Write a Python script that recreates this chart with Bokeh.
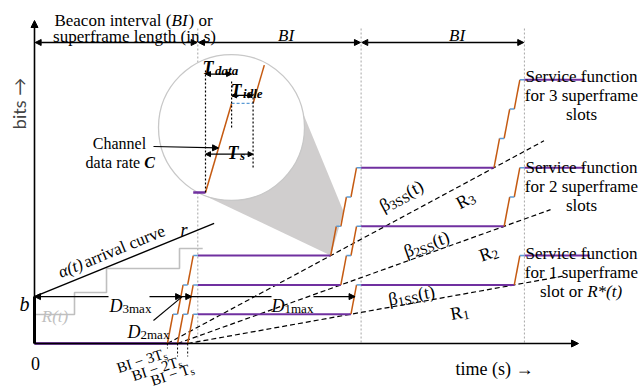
import math
from bokeh.plotting import figure
from bokeh.models import Range1d, Label, Arrow, NormalHead
from bokeh.embed import file_html
from bokeh.resources import INLINE

# ---------------- data (time in beacon intervals, bits in slot quanta) ----------------
bi_marks = [1, 2, 3]                 # superframe boundaries
T_S = 0.062                          # slot length
T_DATA = 0.034                       # transmission part of a slot
T_IDLE = 0.028                       # idle part of a slot
levels_1ss = [0, 1, 2, 3]            # service level at each boundary, 1 slot
levels_2ss = [0, 2, 4, 6]            # 2 slots
levels_3ss = [0, 3, 6, 9]            # 3 slots
tail_end = [3.40, 3.37, 3.37]        # end of the last flat part per curve
beta_end = [3.24, 3.16, 3.12]        # end of the rate-latency lines
burst_b = 1.60                       # burst size b
rate_r = 2.27                        # arrival rate r
alpha_end = 1.10
rt_times = [0.0, 0.245, 0.441, 0.888, 1.03]   # arrival staircase R(t)
rt_levels = [0.99, 1.74, 2.56, 3.24]
d_end = [1.963, 0.963, 0.901]        # D1max, D2max, D3max end points

# ---------------- canvas mapping ----------------
SX, SY, X0, Y0 = 163.3, 29.3, 34.0, 343.0
def ux(px): return (px - X0) / SX
def vy(py): return (Y0 - py) / SY

PURPLE, ORANGE, BLUE = "#7030A0", "#C55A11", "#5B9BD5"
GREY, CONE = "#BFBFBF", "#D0CECE"
SERIF = "Liberation Serif"

p = figure(width=641, height=388, x_range=Range1d(ux(0), ux(641)),
           y_range=Range1d(vy(388), vy(0)), output_backend="svg",
           toolbar_location=None, min_border=0,
           x_axis_location=None, y_axis_location=None)
p.grid.visible = False
p.outline_line_color = None

def head(size=7):
    return NormalHead(size=size, fill_color="black", line_color="black", line_width=1)

def arrow(x0, y0, x1, y1, start=False, end=True, size=7, width=1.3, alpha=1.0):
    p.add_layout(Arrow(x_start=x0, y_start=y0, x_end=x1, y_end=y1,
                       start=head(size) if start else None,
                       end=head(size) if end else None,
                       line_width=width, line_alpha=alpha))

W = {" ": 0.25, "a": 0.444, "b": 0.5, "c": 0.444, "d": 0.5, "e": 0.444, "f": 0.333,
     "g": 0.5, "h": 0.5, "i": 0.278, "k": 0.5, "l": 0.278, "m": 0.778, "n": 0.5,
     "o": 0.5, "p": 0.5, "r": 0.333, "s": 0.389, "t": 0.278, "u": 0.5, "v": 0.5,
     "w": 0.722, "x": 0.5, "y": 0.5, "(": 0.333, ")": 0.333, "*": 0.5, "−": 0.564,
     "→": 1.0, "T": 0.611, "D": 0.722, "R": 0.667, "B": 0.667, "I": 0.333,
     "S": 0.556, "C": 0.667, "β": 0.5, "α": 0.55}

def text_w(t, size, style):
    w = sum(W.get(c, 0.5) for c in t) * size
    return w * (1.05 if "bold" in style else 1.0)

def run(text, size=17, style="normal", dy=0, color="black", gap=0):
    return (text, size, style, dy, color, gap)

def rich(x_px, y_px, runs, angle=0.0, align="left", vcenter=False, font=SERIF):
    th = math.radians(angle)
    widths = [text_w(r[0], r[1], r[2]) + r[5] for r in runs]
    total = sum(widths)
    a = {"left": 0.0, "center": -total / 2, "right": -total}[align]
    n0 = -0.33 * runs[0][1] if vcenter else 0.0
    for (t, s, st, dy, col, _), w in zip(runs, widths):
        n = n0 + dy
        p.add_layout(Label(x=ux(x_px), y=vy(y_px),
                           x_offset=a * math.cos(th) - n * math.sin(th),
                           y_offset=a * math.sin(th) + n * math.cos(th),
                           angle=th, text=t, text_font=font,
                           text_font_size=f"{s}px", text_font_style=st,
                           text_color=col, text_align="left",
                           text_baseline="alphabetic"))
        a += w

# ---------------- superframe boundaries ----------------
v_dim = vy(42)
p.segment(x0=bi_marks, y0=[vy(28)] * 3, x1=bi_marks, y1=[0] * 3,
          line_color="#A6A6A6", line_dash="2 2", line_width=1)

# ---------------- magnifier cone and lens ----------------
cx, cy, cr = 231.0, 127.0, 73.0
tip_t, tip_v = 2 - 3 * T_S, levels_3ss[1]
tx, ty = X0 + tip_t * SX, Y0 - tip_v * SY
dxc, dyc = cx - tx, cy - ty
dist = math.hypot(dxc, dyc)
base = math.atan2(dyc, dxc)
off = math.asin(cr / dist)
tl = math.sqrt(dist ** 2 - cr ** 2)
t_low, t_up = [(tx + tl * math.cos(base + s * off), ty + tl * math.sin(base + s * off)) for s in (-1, 1)]
cone_x = [ux(t_low[0]), ux(cx), ux(t_up[0]), 2 - 2 * T_S + 0.5 * T_DATA, tip_t]
cone_y = [vy(t_low[1]), vy(cy), vy(t_up[1]), levels_3ss[1] + 1.5, tip_v]
p.patch(cone_x, cone_y, fill_color=CONE, line_color=None)
p.scatter([ux(cx)], [vy(cy)], size=2 * cr, fill_color="white", line_color="#C8C8C8", line_width=1.3)

# ---------------- arrival curve, R(t) ----------------
rx, ry = [], []
for i, lv in enumerate(rt_levels):
    if i > 0:
        rx.append(rt_times[i]); ry.append(rt_levels[i - 1])
    rx.append(rt_times[i]); ry.append(lv)
rx.append(rt_times[-1]); ry.append(rt_levels[-1])
p.line(rx, ry, line_color=GREY, line_width=1.6)
p.line([0, alpha_end], [burst_b, burst_b + rate_r * alpha_end], line_color="black", line_width=1.4)

# ---------------- rate-latency lines ----------------
for n, te in zip([1, 2, 3], beta_end):
    lat = 1 - n * T_S
    p.line([lat, te], [0, n * (te - lat)], line_color="black", line_dash="5 3", line_width=1.2)

# ---------------- service staircases ----------------
pur = ([], [], [], [])
ora = ([], [], [], [])
blu = ([], [], [], [])
def seg(store, a, b, c, d):
    store[0].append(a); store[1].append(b); store[2].append(c); store[3].append(d)

for n, lv, te in zip([1, 2, 3], [levels_1ss, levels_2ss, levels_3ss], tail_end):
    seg(pur, 0, lv[0], bi_marks[0] - n * T_S, lv[0])
    for k, bm in enumerate(bi_marks):
        end = bi_marks[k + 1] - n * T_S if k + 1 < len(bi_marks) else te
        seg(pur, bm, lv[k + 1], end, lv[k + 1])
        s = bm - n * T_S
        step = (lv[k + 1] - lv[k]) / n
        for j in range(n):
            l0 = lv[k] + j * step
            seg(ora, s + j * T_S, l0, s + j * T_S + T_DATA, l0 + step)
            seg(blu, s + j * T_S + T_DATA, l0 + step, s + (j + 1) * T_S, l0 + step)

# axes
arrow(0, 0, ux(578), 0, size=7, width=1.6)
arrow(0, 0, 0, vy(20), size=7, width=1.6)
p.segment(x0=pur[0], y0=pur[1], x1=pur[2], y1=pur[3], line_color=PURPLE, line_width=2)
p.segment(x0=ora[0], y0=ora[1], x1=ora[2], y1=ora[3], line_color=ORANGE, line_width=1.5)
p.segment(x0=blu[0], y0=blu[1], x1=blu[2], y1=blu[3], line_color=BLUE, line_width=1.5)
p.segment(x0=[0], y0=[0], x1=[0], y1=[burst_b], line_color="black", line_width=3)

# ---------------- magnified slot ----------------
MX0, MY0, MKX, MKY = ux(205), vy(192), 4.7, 3.04
def mx(t): return MX0 + t * MKX
def my(l): return MY0 + l * MKY
p.segment(x0=[mx(-0.016)], y0=[my(0)], x1=[mx(0)], y1=[my(0)], line_color=PURPLE, line_width=2.5)
p.segment(x0=[mx(0), mx(T_S)], y0=[my(0), my(1)],
          x1=[mx(T_DATA), mx(T_S + 0.43 * T_DATA)], y1=[my(1), my(1.43)],
          line_color=ORANGE, line_width=1.5)
p.segment(x0=[mx(T_DATA)], y0=[my(1)], x1=[mx(T_S)], y1=[my(1)],
          line_color=BLUE, line_width=1.3, line_dash="3 2")
p.segment(x0=[mx(0), mx(T_DATA), mx(T_S)], y0=[my(0), my(0.73), my(0.28)],
          x1=[mx(0), mx(T_DATA), mx(T_S)], y1=[my(1.37), my(1.26), my(1.11)],
          line_color="black", line_dash="2 2", line_width=1.2)
arrow(mx(0), my(1.33), mx(T_DATA), my(1.33), start=True, size=5, width=1.3)
arrow(mx(T_DATA), my(1.09), mx(T_S), my(1.09), start=True, size=5, width=1.3)
arrow(mx(0), my(0.43), mx(T_S), my(0.43), start=True, size=5, width=1.3)
arrow(ux(153), vy(146), mx(0.5 * T_DATA), my(0.5), size=6, width=1.2)

# ---------------- top dimension line ----------------
for a0, a1 in zip([0] + bi_marks[:-1], bi_marks):
    arrow(a0 + 0.004, v_dim, a1 - 0.004, v_dim, start=True, size=6, width=1.5)

# ---------------- delay bounds ----------------
d1_lab, d3_lab = (271, 313), (108, 149)
for x0_, x1_ in [(0, ux(d3_lab[0])), (ux(d3_lab[1]), ux(d1_lab[0])), (ux(d1_lab[1]), d_end[0])]:
    p.segment(x0=[x0_], y0=[burst_b], x1=[x1_], y1=[burst_b], line_color="black", line_width=1.3)
arrow(0.03, burst_b, 0.0, burst_b, size=6, alpha=0)
for de in d_end:
    arrow(de - 0.03, burst_b, de, burst_b, size=6, alpha=0)
p.segment(x0=[ux(153)], y0=[vy(320)], x1=[d_end[2] + 0.004], y1=[burst_b], line_color="black", line_width=1.1)

# BI - nTs markers
p.segment(x0=[1 - 3 * T_S, 1 - 2 * T_S, 1 - T_S], y0=[0, 0, 0],
          x1=[1 - 3 * T_S, 1 - 2 * T_S, 1 - T_S], y1=[vy(348), vy(356), vy(356)],
          line_color="black", line_dash="2 2", line_width=1)

# ---------------- texts ----------------
rich(133, 20, [run("Beacon interval ("), run("BI", style="italic"), run(") or")], align="center")
rich(134, 36, [run("superframe length (in s)")], align="center")
rich(286, 35, [run("BI", style="italic")], align="center")
rich(457, 35, [run("BI", style="italic")], align="center")
p.add_layout(Label(x=ux(18), y=vy(103), text="bits →", angle=math.pi / 2, text_font="Lato",
                   text_font_size="18px", text_align="center", text_baseline="middle"))
rich(494, 363, [run("time (s) →", 18)], align="center", vcenter=True)
rich(35, 357, [run("0", size=18)], align="center", vcenter=True)
rich(24, 297, [run("b", size=20, style="italic")], align="center", vcenter=True)

rich(119, 143, [run("Channel", 16)], align="center")
rich(120, 162, [run("data rate ", 16), run("C", 16, "bold italic")], align="center")
rich(202, 67, [run("T", 18, "bold italic", gap=1), run("data", 13, "bold italic", -3)])
rich(230, 90, [run("T", 18, "bold italic", gap=1), run("idle", 13, "bold italic", -3)])
rich(227, 152, [run("T", 18, "bold italic", gap=1), run("s", 13, "bold italic", -3)])

rich(111, 245, [run("α(t)", style="italic", gap=2), run(" arrival curve")], angle=22.2, align="center", vcenter=True)
rich(183, 224, [run("r", 18, "italic")], align="center", vcenter=True)
rich(55, 310, [run("R(t)", style="italic", color=GREY)], align="center", vcenter=True)

rich(109, 305, [run("D", 18, "italic"), run("3max", 13, dy=-3)])
rich(271, 305, [run("D", 18, "italic"), run("1max", 13, dy=-3)])
rich(127, 331, [run("D", 18, "italic"), run("2max", 13, dy=-3)])

for k, (bx, by) in zip(["3", "2", ""], [(166, 352), (181, 360), (193, 367)]):
    rich(bx, by, [run("BI − " + k + "T", 15), run("s", 11, dy=-3)], angle=18, align="right")

ang = [math.degrees(math.atan(n * SY / SX)) for n in (1, 2, 3)]
for n, (bx, by), (rx_, ry_) in zip([1, 2, 3], [(410, 289), (424, 238), (398, 190)],
                                   [(458, 306), (486, 247), (462, 194)]):
    a = ang[n - 1]
    rich(bx, by, [run("β", 18), run(f"{n}SS", 13, dy=-4), run("(t)", 18)], angle=a, align="center", vcenter=True)
    rich(rx_, ry_, [run("R", 18), run(str(n), 13, dy=-4)], angle=a, align="center", vcenter=True)

for base_y, n in [(76, 3), (167, 2)]:
    rich(581, base_y, [run("Service function")], align="center")
    rich(581, base_y + 19, [run(f"for {n} superframe")], align="center")
    rich(581, base_y + 38, [run("slots")], align="center")
rich(581, 253, [run("Service function")], align="center")
rich(581, 272, [run("for 1 superframe")], align="center")
rich(581, 291, [run("slot or "), run("R*(t)", style="italic")], align="center")

open("out.html", "w").write(file_html(p, INLINE))
